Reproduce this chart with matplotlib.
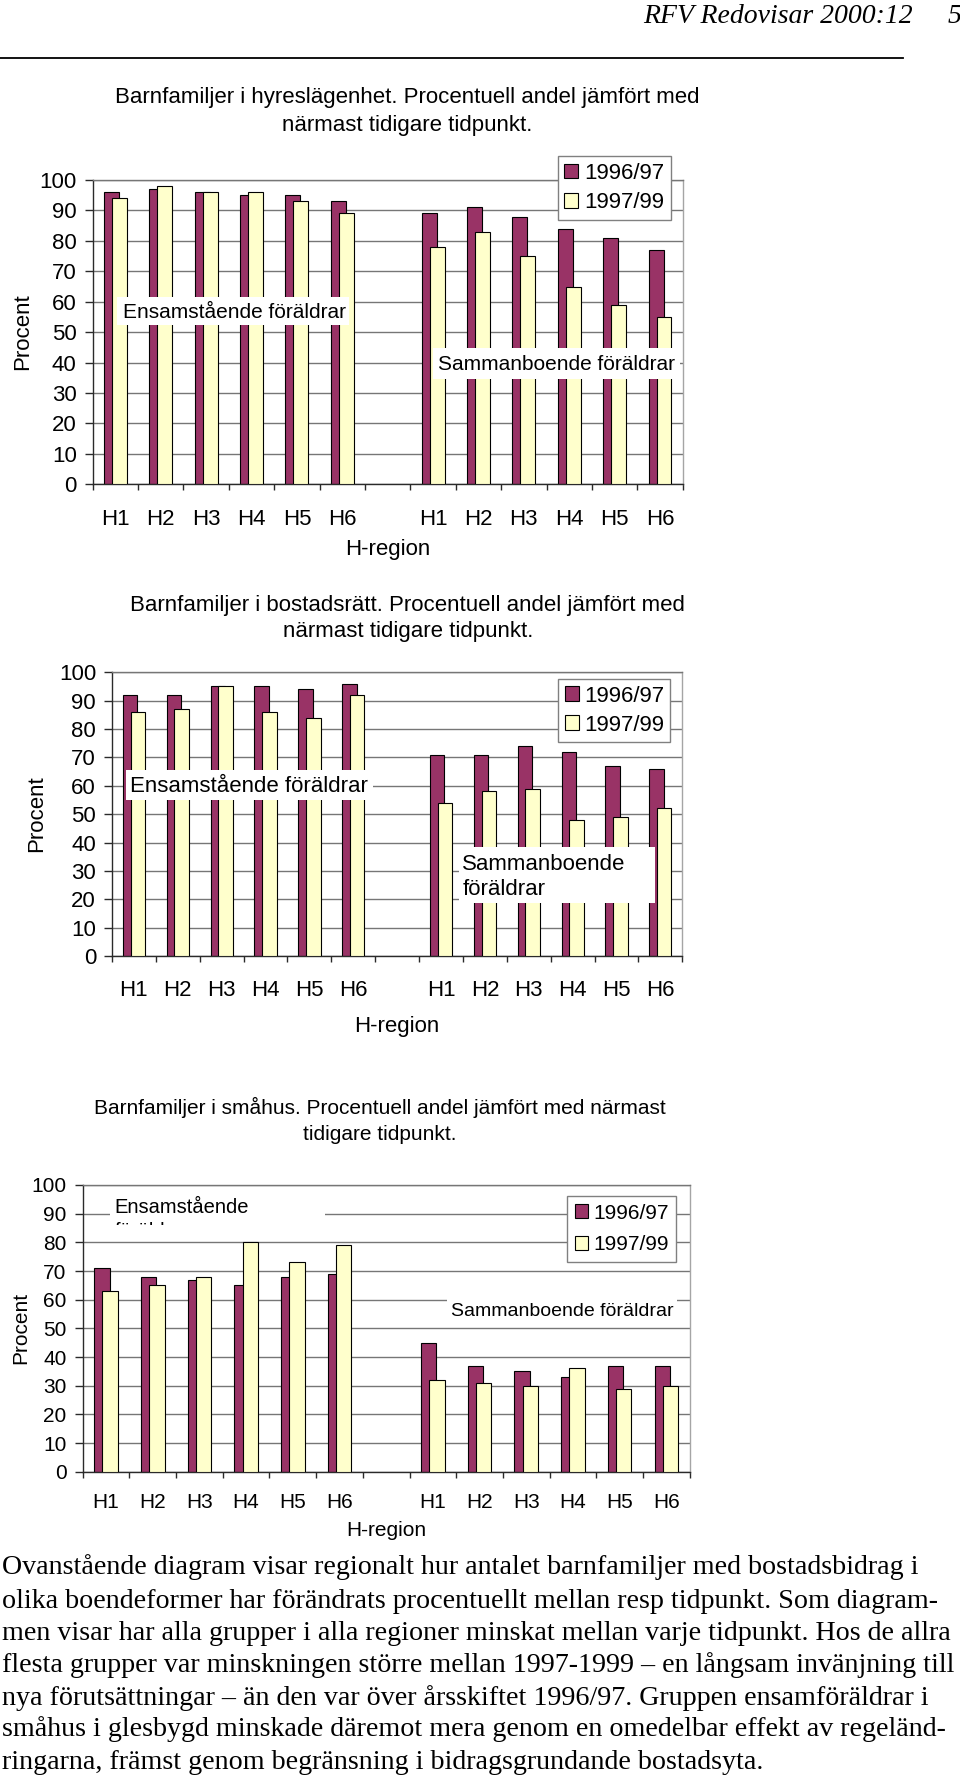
import numpy as np
import matplotlib
matplotlib.use("Agg")
import matplotlib.pyplot as plt
from matplotlib.patches import Rectangle
from matplotlib.transforms import Bbox, TransformedBbox

# ---------------- data ----------------
regions = ["H1", "H2", "H3", "H4", "H5", "H6"]
series_labels = ["1996/97", "1997/99"]
y_ticks = [0, 10, 20, 30, 40, 50, 60, 70, 80, 90, 100]

hyres_ensam_9697 = [96, 97, 96, 95, 95, 93]
hyres_ensam_9799 = [94, 98, 96, 96, 93, 89]
hyres_samman_9697 = [89, 91, 88, 84, 81, 77]
hyres_samman_9799 = [78, 83, 75, 65, 59, 55]

bostr_ensam_9697 = [92, 92, 95, 95, 94, 96]
bostr_ensam_9799 = [86, 87, 95, 86, 84, 92]
bostr_samman_9697 = [71, 71, 74, 72, 67, 66]
bostr_samman_9799 = [54, 58, 59, 48, 49, 52]

smahus_ensam_9697 = [71, 68, 67, 65, 68, 69]
smahus_ensam_9799 = [63, 65, 68, 80, 73, 79]
smahus_samman_9697 = [45, 37, 35, 33, 37, 37]
smahus_samman_9799 = [32, 31, 30, 36, 29, 30]

titles = [
    ["Barnfamiljer i hyreslägenhet. Procentuell andel jämfört med",
     "närmast tidigare tidpunkt."],
    ["Barnfamiljer i bostadsrätt. Procentuell andel jämfört med",
     "närmast tidigare tidpunkt."],
    ["Barnfamiljer i småhus. Procentuell andel jämfört med närmast",
     "tidigare tidpunkt."],
]
paragraph = [
    "Ovanstående diagram visar regionalt hur antalet barnfamiljer med bostadsbidrag i",
    "olika boendeformer har förändrats procentuellt mellan resp tidpunkt. Som diagram-",
    "men visar har alla grupper i alla regioner minskat mellan varje tidpunkt. Hos de allra",
    "flesta grupper var minskningen större mellan 1997-1999 – en långsam invänjning till",
    "nya förutsättningar – än den var över årsskiftet 1996/97. Gruppen ensamföräldrar i",
    "småhus i glesbygd minskade däremot mera genom en omedelbar effekt av regeländ-",
    "ringarna, främst genom begränsning i bidragsgrundande bostadsyta.",
]

# ---------------- setup ----------------
W, H = 960, 1777
plt.rcParams["font.family"] = ["Liberation Sans", "DejaVu Sans"]
fig = plt.figure(figsize=(W / 100, H / 100), dpi=100)
fig.patch.set_facecolor("white")

def fx(x):
    return x / W

def fy(y):
    return 1 - y / H

C1 = "#993366"
C2 = "#FFFFCC"
GRID = "#767676"
AXC = "#2a2a2a"

def chart(x0, x1, y100, y0, ens1, ens2, sam1, sam2, fs, xpad, leg_xy, leg_lsp, leg_bp):
    ax = fig.add_axes([fx(x0), fy(y0), (x1 - x0) / W, (y0 - y100) / H])
    cats = regions + [""] + regions
    pos = list(range(0, 6)) + list(range(7, 13))
    v1 = ens1 + sam1
    v2 = ens2 + sam2
    b1 = ax.bar([p - 0.088 for p in pos], v1, width=0.33, color=C1,
                edgecolor="black", linewidth=0.8, zorder=2)
    b2 = ax.bar([p + 0.088 for p in pos], v2, width=0.33, color=C2,
                edgecolor="black", linewidth=0.8, zorder=3)
    ax.set_xlim(-0.5, 12.5)
    ax.set_ylim(0, 100)
    ax.set_yticks(y_ticks)
    ax.set_yticklabels([str(t) for t in y_ticks])
    ax.tick_params(axis="y", length=5.5, width=1, pad=6, labelsize=fs,
                   color=AXC, direction="out")
    ax.set_xticks(np.arange(-0.5, 13, 1))
    ax.set_xticklabels([])
    ax.tick_params(axis="x", which="major", length=4.5, width=1,
                   color=AXC, direction="out")
    ax.set_xticks(np.arange(13), minor=True)
    ax.set_xticklabels(cats, minor=True)
    ax.tick_params(axis="x", which="minor", length=0, pad=xpad, labelsize=fs)
    ax.yaxis.grid(True, color=GRID, linewidth=1.0)
    ax.set_axisbelow(True)
    for s in ("left", "bottom"):
        ax.spines[s].set_color(AXC)
        ax.spines[s].set_linewidth(1.0)
    ax.spines["top"].set_color(GRID)
    ax.spines["top"].set_linewidth(1.0)
    ax.spines["right"].set_color("#a5a5a5")
    ax.spines["right"].set_linewidth(1.0)
    ax.legend([b1, b2], series_labels, loc="upper left",
              bbox_to_anchor=(fx(leg_xy[0]), fy(leg_xy[1])),
              bbox_transform=fig.transFigure, borderaxespad=0,
              frameon=True, fancybox=False, framealpha=1, edgecolor="#808080",
              fontsize=fs, handlelength=0.63, handleheight=0.63,
              handletextpad=0.25, labelspacing=leg_lsp, borderpad=leg_bp)
    ax.get_legend().get_frame().set_linewidth(1.0)
    return ax

def line_text(x, y, s, fs, ha="left", **kw):
    return fig.text(fx(x), fy(y), s, fontsize=fs, ha=ha, va="baseline", **kw)

def white_box(x0, x1, y0, y1):
    r = Rectangle((fx(x0), fy(y1)), (x1 - x0) / W, (y1 - y0) / H,
                  transform=fig.transFigure, facecolor="white",
                  edgecolor="none", zorder=5)
    fig.add_artist(r)

# ---------------- header ----------------
line_text(913, 23, "RFV Redovisar 2000:12", 20, ha="right",
          family="Liberation Serif", style="italic")
line_text(948, 23, "5", 20, family="Liberation Serif", style="italic")
fig.add_artist(plt.Line2D([0, fx(903)], [fy(58), fy(58)],
                          transform=fig.transFigure, color="black", lw=1.3))

# ---------------- chart 1 ----------------
chart(92.7, 682.7, 180, 484.3, hyres_ensam_9697, hyres_ensam_9799,
      hyres_samman_9697, hyres_samman_9799, 16, 17.5, (557.7, 156), 0.39, 0.3)
line_text(407, 103, titles[0][0], 16, ha="center")
line_text(407, 130.5, titles[0][1], 16, ha="center")
fig.text(fx(22.7), fy(332), "Procent", rotation=90, fontsize=16,
         ha="center", va="center")
line_text(387.7, 555, "H-region", 16, ha="center")
white_box(117.3, 349.3, 296.7, 325)
line_text(122.7, 318.2, "Ensamstående föräldrar", 15, zorder=6)
white_box(432.7, 680, 348.3, 379.3)
line_text(438.3, 370.2, "Sammanboende föräldrar", 15, zorder=6)

# ---------------- chart 2 ----------------
chart(112, 682.3, 672.3, 956, bostr_ensam_9697, bostr_ensam_9799,
      bostr_samman_9697, bostr_samman_9799, 16, 17.5, (558.3, 679.3), 0.36, 0.28)
line_text(407.8, 611, titles[1][0], 16, ha="center")
line_text(407.8, 637.5, titles[1][1], 16, ha="center")
fig.text(fx(36.7), fy(814), "Procent", rotation=90, fontsize=16,
         ha="center", va="center")
line_text(397, 1032, "H-region", 16, ha="center")
white_box(125.7, 373.3, 770, 800)
line_text(130, 792.3, "Ensamstående föräldrar", 16, zorder=6)
white_box(459, 655, 846.7, 903.3)
line_text(462.3, 869.7, "Sammanboende", 16, zorder=6)
line_text(462.3, 894.7, "föräldrar", 16, zorder=6)

# ---------------- chart 3 ----------------
chart(82.7, 689.7, 1185, 1471.7, smahus_ensam_9697, smahus_ensam_9799,
      smahus_samman_9697, smahus_samman_9799, 15, 15, (566.7, 1195.7), 0.6, 0.38)
line_text(379.7, 1114, titles[2][0], 15, ha="center")
line_text(379.7, 1140.5, titles[2][1], 15, ha="center")
fig.text(fx(20.7), fy(1328), "Procent", rotation=90, fontsize=15,
         ha="center", va="center")
line_text(386.2, 1536, "H-region", 15, ha="center")
white_box(110, 325, 1191, 1225)
clip = TransformedBbox(Bbox.from_extents(fx(110), fy(1225), fx(325), fy(1191)),
                       fig.transFigure)
for i, s in enumerate(["Ensamstående", "föräldrar"]):
    t = line_text(114.3, 1213 + i * 24, s, 14.5, zorder=6)
    t.set_clip_box(clip)
    t.set_clip_on(True)
white_box(446.7, 676.7, 1294, 1322)
line_text(450.7, 1316.3, "Sammanboende föräldrar", 14, zorder=6)

# ---------------- paragraph ----------------
para_y = [1567, 1600.8, 1632.7, 1665, 1697.6, 1729.4, 1762]
fig.canvas.draw()
probe = fig.text(0, 0, paragraph[0], fontsize=20, family="Liberation Serif")
r = fig.canvas.get_renderer()
wpx = probe.get_window_extent(renderer=r).width
probe.remove()
pfs = 20 * 919 / wpx
for s, y in zip(paragraph, para_y):
    line_text(2, y + 7, s, pfs, family="Liberation Serif")

fig.savefig("out.png", dpi=100, facecolor="white")
